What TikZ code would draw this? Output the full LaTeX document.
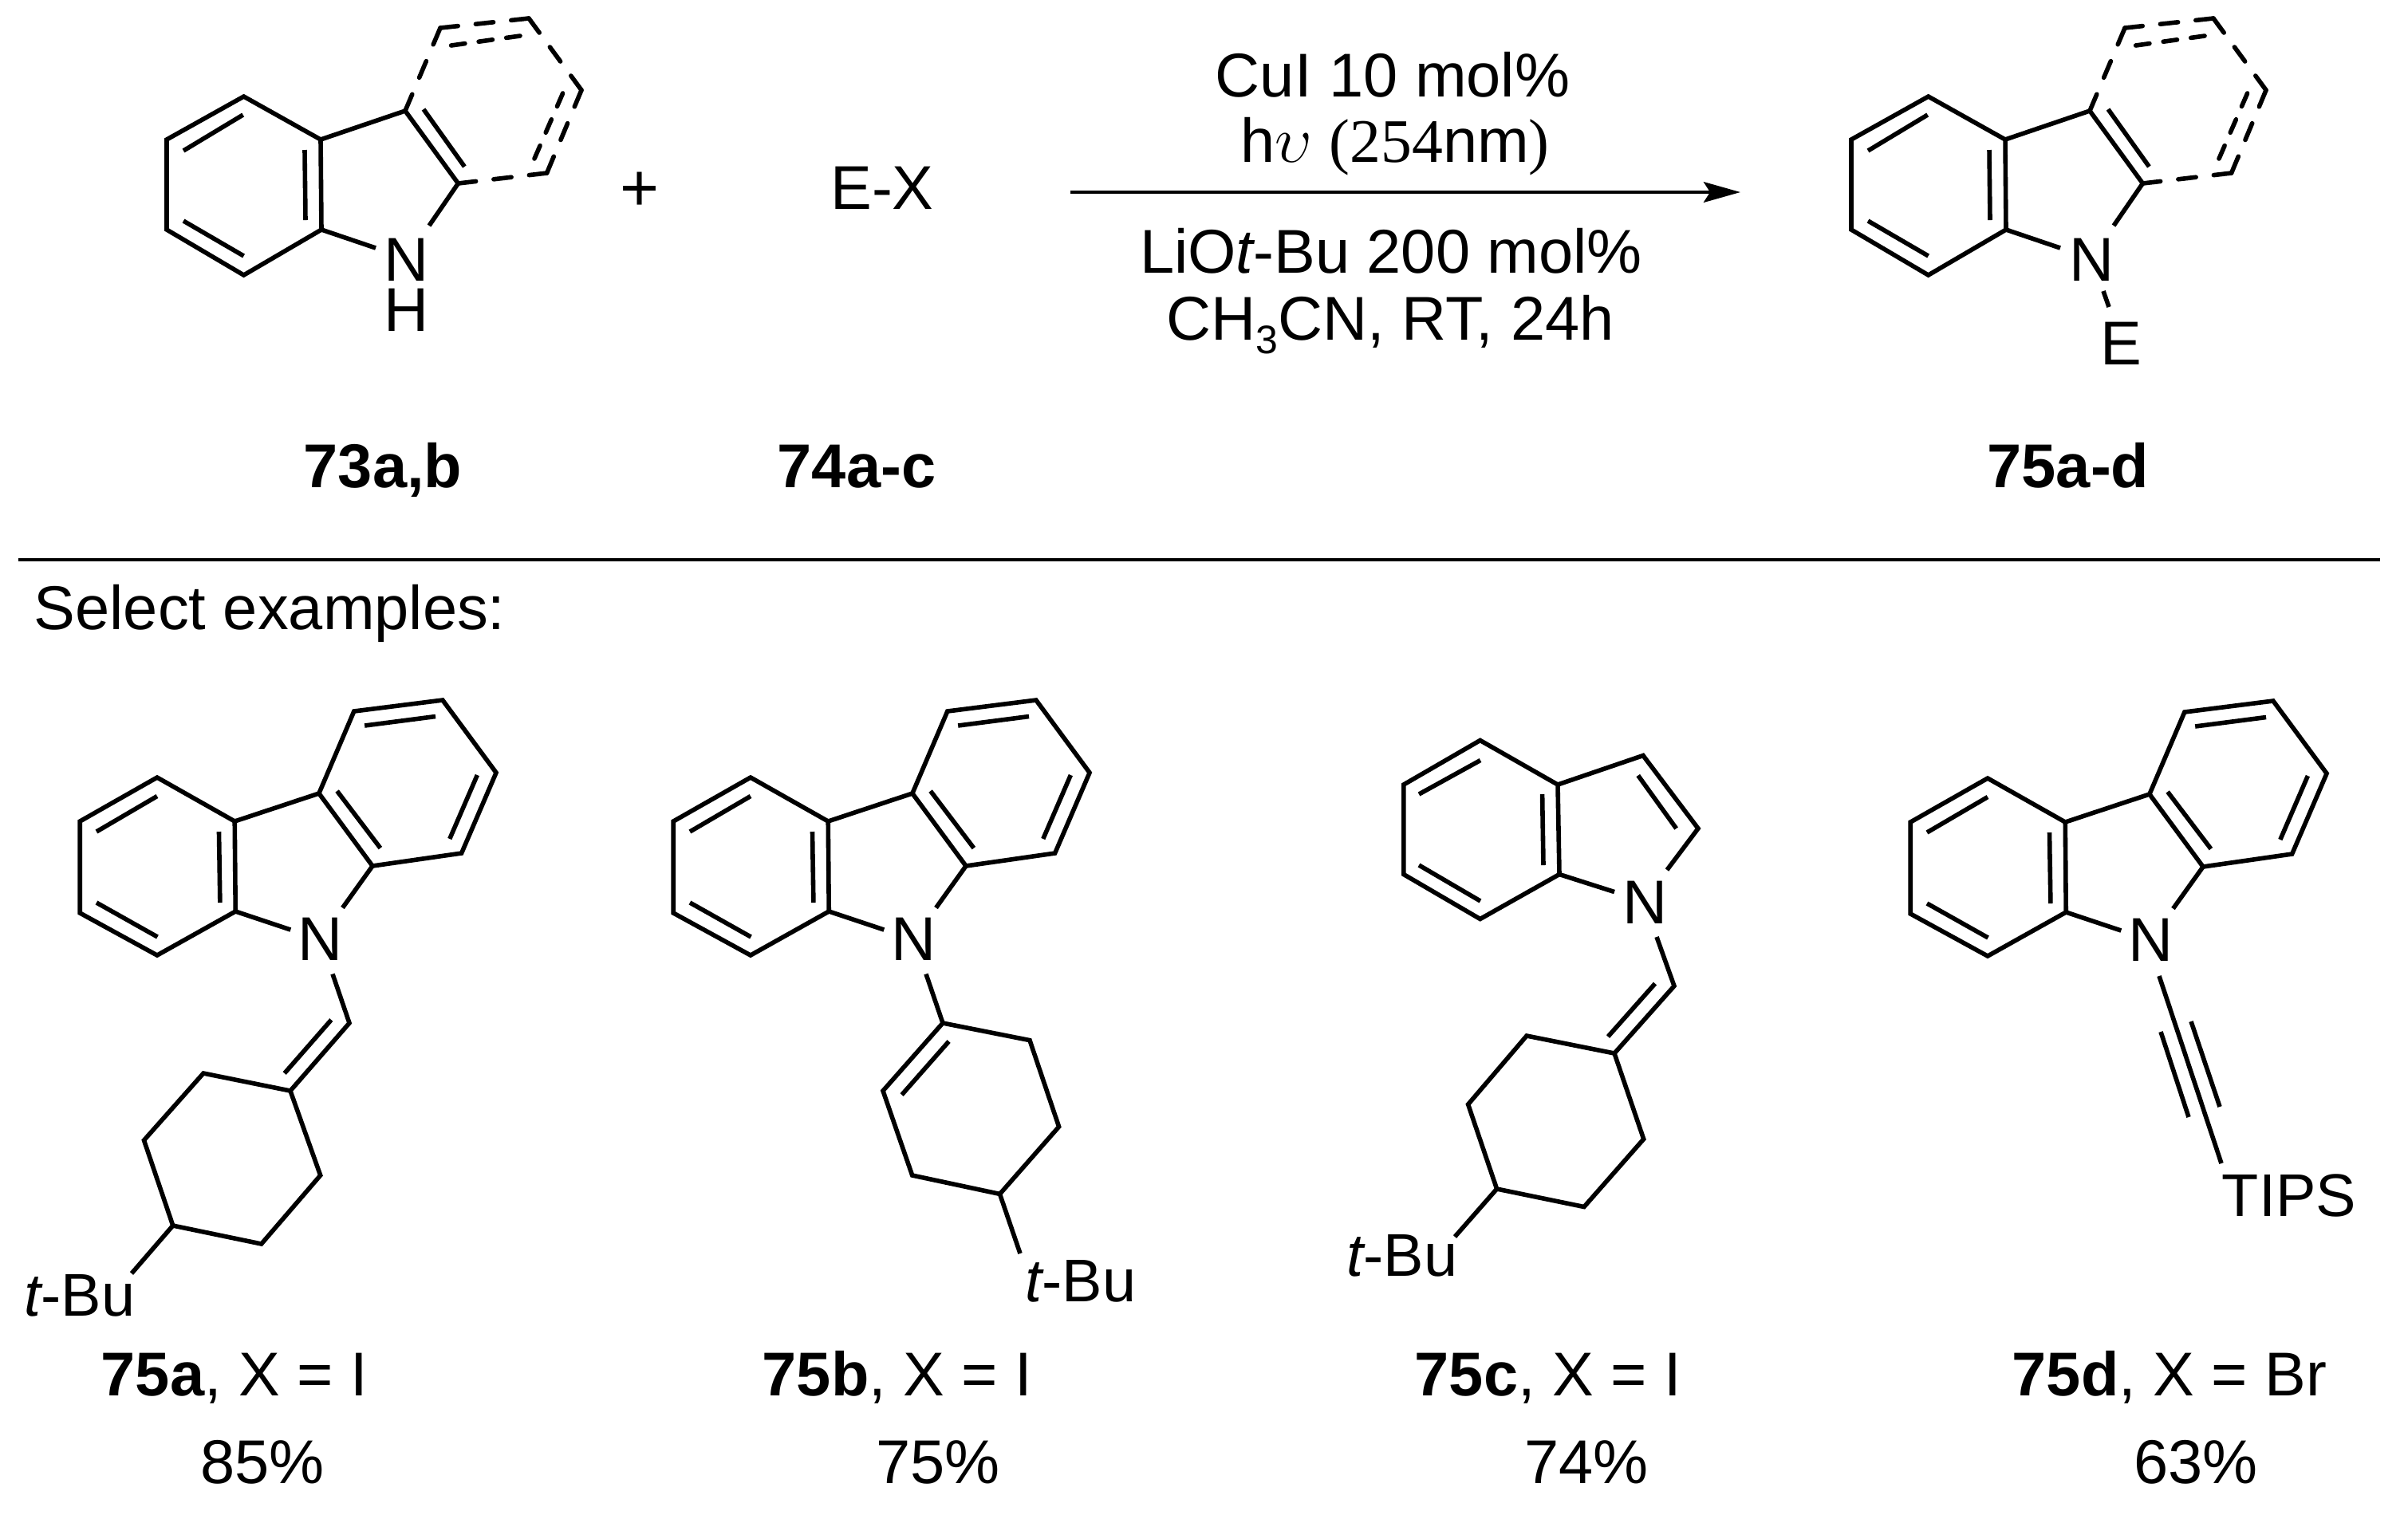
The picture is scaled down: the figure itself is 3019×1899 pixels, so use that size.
\documentclass[tikz,border=0pt]{standalone}
\usepackage{fontspec}
\setmainfont{Liberation Sans}
\newfontfamily\serifrm{Liberation Serif}
\usetikzlibrary{arrows.meta,calc}
\tikzset{
  bond/.style={line width=1.4pt,line join=miter,line cap=butt},
  dbond/.style={line width=1.4pt,line cap=round},
  rule/.style={line width=1.15pt},
  lab/.style={anchor=base,inner sep=0pt,font=\fontsize{19.4}{22}\selectfont},
  labw/.style={anchor=base west,inner sep=0pt,font=\fontsize{19.4}{22}\selectfont},
  sublab/.style={anchor=base west,inner sep=0pt,font=\fontsize{18.9}{22}\selectfont},
  boldlab/.style={anchor=base,inner sep=0pt,font=\fontsize{19.4}{22}\selectfont\bfseries}
}
\newcommand{\dashbond}[2]{\draw[dbond] #1 -- ($#1!.2!#2$) ($#1!.4!#2$) -- ($#1!.6!#2$) ($#1!.8!#2$) -- #2;}
% indole core with the optional dashed ring; #1 = x shift, #2 = prefix
\newcommand{\indolecore}[2]{%
\begin{scope}[shift={(#1,0)}]
\coordinate (#2c4) at (508,139); \coordinate (#2c2) at (574.4,230);
\coordinate (#2a) at (552,35); \coordinate (#2b) at (663,23);
\coordinate (#2c) at (729,113); \coordinate (#2d) at (685.6,217);
\coordinate (#2n1) at (471,311); \coordinate (#2n2) at (538,283);
\node[lab] (#2N) at (510,352) {N};
\draw[bond] (305.6,121) -- (209,175) -- (209,288) -- (305.6,345) -- (403,288) -- (402,175) -- cycle;
\draw[bond] (402,175) -- (#2c4) -- (#2c2) -- (#2n2);
\draw[bond] (403,288) -- (#2n1);
\draw[bond] (304.7,144) -- (230,189) (230,277) -- (305.6,321) (382,188) -- (383,276) (531,137) -- (582.4,209);
\dashbond{(#2c4)}{(#2a)} \dashbond{(#2a)}{(#2b)} \dashbond{(#2b)}{(#2c)}
\dashbond{(#2c)}{(#2d)} \dashbond{(#2d)}{(#2c2)}
\dashbond{(565.6,57)}{(652,45)} \dashbond{(705.6,117)}{(670,199)}
\end{scope}}
% carbazole; #1 = shift, #2 = prefix
\newcommand{\carbazole}[2]{%
\begin{scope}[shift={#1},xscale=0.9874]
\node[lab] (#2N) at (407,1204) {N};
\coordinate (#2n1) at (369,1166); \coordinate (#2n2) at (435,1138.5);
\draw[bond] (199.5,975) -- (101.5,1030) -- (101.5,1145) -- (199.5,1198) -- (299,1143) -- (298,1030) -- cycle;
\draw[bond] (298,1030) -- (405,995) -- (473,1086) -- (#2n2);
\draw[bond] (299,1143) -- (#2n1);
\draw[bond] (405,995) -- (449.5,892) -- (562,878) -- (630,969) -- (586,1070) -- (473,1086);
\draw[bond] (199.5,998.5) -- (122.5,1043) (122.5,1132) -- (200,1175) (278,1043) -- (279.4,1132)
  (428,992) -- (483,1063.6) (463,910) -- (553,898.5) (606,972) -- (571,1052);
\end{scope}}
\begin{document}
\begin{tikzpicture}[x=0.25pt,y=-0.25pt]
\useasboundingbox (0,0) rectangle (3019,1899);
\fill[white] (0,0) rectangle (3019,1899);
% top scheme
\indolecore{0}{r}
\node[lab] (rH) at (510,415) {H};
\indolecore{2112}{p}
\coordinate (pe1) at (2637,365); \coordinate (pe2) at (2644,385);
\draw[bond] (pe1) -- (pe2);
\node[lab] (pE) at (2659,457) {E};
\node[lab,font=\fontsize{21}{22}\selectfont] (plus) at (802,264) {+};
\node[lab] (ex) at (1106,262) {E-X};
\node[boldlab] (l73) at (480,611) {73a,b};
\node[boldlab] (l74) at (1074,611) {74a-c};
\node[boldlab] (l75) at (2593,611) {75a-d};
\node[lab] (c1) at (1746,121) {CuI 10 mol\%};
\node[lab] (c2) at (1749,203) {h{\fontsize{20}{22}\selectfont$\upsilon$} {\serifrm (254}nm{\serifrm )}};
\node[lab] (c3) at (1744,342) {LiO{\itshape t}-Bu 200 mol\%};
\node[lab] (c4) at (1743,426) {CH\raisebox{-0.23em}{\fontsize{12.5}{14}\selectfont 3}CN, RT, 24h};
\coordinate (arrS) at (1342,241); \coordinate (arrE) at (2182,241);
\draw[rule,-{Stealth[length=11.5pt,width=6.4pt,inset=2pt]}] (arrS) -- (arrE);
\coordinate (ruleL) at (23,702); \coordinate (ruleR) at (2984,702);
\draw[rule] (ruleL) -- (ruleR);
\node[labw] (sel) at (42,789) {Select examples:};
% 75a
\carbazole{(0,0)}{A}
\coordinate (Av) at (438,1283); \coordinate (As) at (417,1221.5);
\draw[bond] (As) -- (Av) -- (364,1368) -- (255,1346) -- (180.5,1430) -- (216.8,1537) -- (327.7,1560) -- (401.7,1474) -- (364,1368);
\draw[bond] (415.3,1279) -- (356.7,1346);
\coordinate (Ab) at (165,1597);
\draw[bond] (216.8,1537) -- (Ab);
\node[sublab] (Atbu) at (30,1650) {{\itshape t}-Bu};
\node[lab] (Al) at (294,1750) {\textbf{75a}, X = I};
\node[lab] (Ay) at (329,1860) {85\%};
% 75b
\carbazole{(744,0)}{B}
\coordinate (Bs) at (1161,1221.5); \coordinate (Bb) at (1279,1572);
\draw[bond] (Bs) -- (1182,1283);
\draw[bond] (1182,1283) -- (1291,1304.6) -- (1327.6,1413) -- (1253.5,1497.4) -- (1143.7,1474) -- (1107,1368) -- cycle;
\draw[bond] (1189.6,1306) -- (1130.6,1373);
\draw[bond] (1253.5,1497.4) -- (Bb);
\node[sublab] (Btbu) at (1285,1632) {{\itshape t}-Bu};
\node[lab] (Bl) at (1125,1750) {\textbf{75b}, X = I};
\node[lab] (By) at (1176,1860) {75\%};
% 75c
\node[lab] (CN) at (2062,1158) {N};
\coordinate (Cn1) at (2024,1118.5); \coordinate (Cn2) at (2090,1091);
\coordinate (Cs) at (2077,1175); \coordinate (Cb) at (1824,1551);
\draw[bond] (1855.7,928.5) -- (1759.8,984) -- (1759.8,1096.5) -- (1855.7,1152.5) -- (1955,1096.5) -- (1953,984) -- cycle;
\draw[bond] (1953,984) -- (2060,947.5) -- (2129,1039) -- (Cn2);
\draw[bond] (1955,1096.5) -- (Cn1);
\draw[bond] (1856,953.5) -- (1779,996) (1779,1085) -- (1856,1130) (1933.6,996) -- (1935,1085) (2053.7,972.5) -- (2101.6,1039);
\draw[bond] (Cs) -- (2099,1236.5) -- (2024,1321) -- (1914,1299) -- (1840.6,1385) -- (1876.6,1491) -- (1986,1513.5) -- (2060.7,1428.5) -- (2024,1321);
\draw[bond] (2075,1233.5) -- (2016,1300);
\draw[bond] (1876.6,1491) -- (Cb);
\node[sublab] (Ctbu) at (1688,1600) {{\itshape t}-Bu};
\node[lab] (Cl) at (1941,1750) {\textbf{75c}, X = I};
\node[lab] (Cy) at (1989,1860) {74\%};
% 75d
\carbazole{(2295,1)}{D}
\coordinate (Ds) at (2707,1224); \coordinate (De) at (2785,1459);
\draw[bond] (Ds) -- (De);
\draw[bond] (2709,1294) -- (2744,1401) (2747,1281) -- (2783,1388);
\node[sublab] (Dt) at (2785,1525) {TIPS};
\node[lab] (Dl) at (2720,1750) {\textbf{75d}, X = Br};
\node[lab] (Dy) at (2753,1860) {63\%};
\end{tikzpicture}
\end{document}
